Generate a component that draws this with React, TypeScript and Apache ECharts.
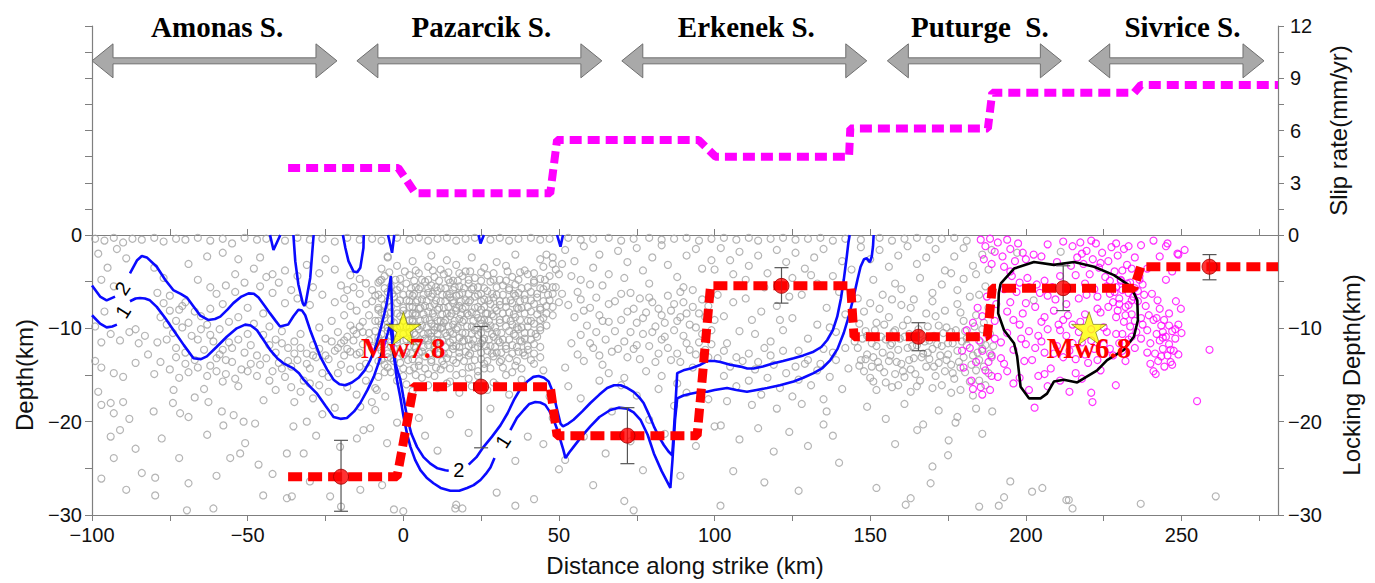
import React, { useEffect, useRef } from "react";
import * as echarts from "echarts";

// ---------- axis extents ----------
const X_MIN = -100;
const X_MAX = 281;

// ---------- fault segments (km along strike) ----------
const segmentNames = ["Amonas S.", "Pazarcik S.", "Erkenek S.", "Puturge  S.", "Sivrice S."];
const segmentStart = [-100, -14.9, 70.2, 155.5, 220.2];
const segmentEnd = [-21.3, 63.8, 148.9, 211.4, 276.5];
const segmentLabelX = [-59.8, 25.1, 110.2, 185.2, 250.3];
const segmentArrowLevel = 10;
const segmentLabelLevel = 11.94;

// ---------- slip rate (mm/yr) ----------
const slipRate: number[][] = [
  [-37, 3.85], [-1.6, 3.85], [3.9, 2.39], [47.2, 2.39], [49.4, 5.45], [94.9, 5.45],
  [100.3, 4.5], [143.2, 4.5], [143.6, 6.12], [187.8, 6.12], [189.2, 8.17], [234.8, 8.17],
  [236.9, 8.61], [281, 8.61],
];

// ---------- locking depth (km) ----------
const lockingLine: number[][] = [
  [-37, -25.9], [-2, -25.9], [3.3, -16.25], [47.2, -16.25], [49.4, -21.5], [94.4, -21.5],
  [98.7, -5.45], [143.7, -5.45], [144.8, -10.9], [187.6, -10.9], [189.2, -5.7], [234.7, -5.7],
  [236.9, -3.4], [281, -3.4],
];
const lockX = [-20, 25, 72, 121.5, 165.5, 212, 259];
const lockDepth = [-25.9, -16.25, -21.5, -5.45, -10.9, -5.7, -3.4];
const lockLow = [-29.6, -22.8, -24.5, -7.3, -12.4, -8.1, -4.8];
const lockHigh = [-22.0, -9.8, -18.5, -3.5, -9.4, -3.3, -2.1];

// ---------- main shocks ----------
const quakeNames = ["Mw7.8", "Mw6.8"];
const quakeX = [0, 220.3];
const quakeDepth = [-10, -10];

// ---------- slip-deficit contours ----------
const contour2a: number[][] = [[-100, -5.4], [-97.4, -6.6], [-95.3, -7.0], [-92.6, -6.6]];
const contour2b: number[][] = [
  [-87.8, -4.1], [-85.5, -2.7], [-84, -2.25], [-82.4, -2.4], [-79.2, -3.4], [-76.5, -4.8],
  [-73.9, -5.9], [-71.5, -6.3], [-69.5, -6.7], [-67.5, -7.6], [-65.3, -8.6], [-62.7, -9.1],
  [-60.5, -9.0], [-58.8, -8.75], [-56.5, -8.0], [-54.6, -7.3], [-52, -6.6], [-49.7, -6.25],
  [-48, -6.3], [-46.5, -6.7], [-44.5, -7.6], [-42.8, -8.4], [-41, -9.2], [-39.6, -9.8],
  [-37, -9.6], [-35.3, -8.7], [-33.7, -8.0], [-32.5, -8.1], [-31.5, -8.6], [-29.9, -10.2],
  [-28.3, -11.6], [-26.7, -13.0], [-24.5, -14.4], [-22.4, -15.5], [-20.5, -16.0], [-18.6, -16.1],
  [-16.5, -15.8], [-14.4, -15.3], [-12.4, -14.5], [-10.6, -13.4], [-8.8, -11.9], [-7.4, -10.2],
  [-6.2, -8.6], [-5.3, -7.3], [-4.5, -5.6], [-4.0, -4.4], [-3.7, -7.0], [-3.5, -10.0],
  [-3.2, -12.2], [-2.5, -13.8], [-1.6, -14.8], [-1.0, -15.4], [0, -17.3], [1.2, -19.5],
  [2.6, -21.3], [4.4, -22.7], [6.5, -23.8], [8.7, -24.5], [11, -25.0], [13.5, -25.2], [14.6, -25.25],
];
const contour2c: number[][] = [
  [21, -24.6], [23.5, -23.8], [25.8, -22.7], [28.5, -21.6], [31.2, -20.4], [33.5, -19.1],
  [35.5, -17.7], [37.6, -16.5], [39.8, -15.7], [41.8, -15.2], [43.5, -15.1], [45.2, -15.3],
  [46.7, -15.7], [48, -16.8], [48.9, -18.0], [50.5, -20.2], [51.3, -20.5], [53, -20.2],
  [54.7, -19.8], [57.5, -18.9], [60.1, -18.0], [63, -17.1], [65.5, -16.4], [67.7, -16.1],
  [69.8, -16.1], [72, -16.4], [74, -16.8], [75.8, -17.4], [77.2, -18.0], [79, -19.3],
  [80.5, -20.5], [82.1, -21.6], [83.7, -22.5], [85.2, -23.2], [86.4, -23.6], [87.2, -19.5],
  [88, -14.8], [90, -14.5], [92.3, -14.3], [95.5, -13.9], [97.6, -13.5], [100, -13.5],
  [101.9, -13.6], [105, -13.9], [108.3, -14.1], [110.5, -14.3], [112.5, -14.3], [115.5, -14.1],
  [119, -13.75], [122, -13.5], [125.4, -13.2], [128.5, -12.9], [131.8, -12.5], [134.3, -12.0],
  [136.2, -11.25], [138, -10.2], [139.4, -8.75], [140.6, -6.8], [141.5, -4.8], [142.4, -2.5],
  [143, -0.8], [143.4, 0],
];
const contour1a: number[][] = [[-100, -8.6], [-97.4, -9.5], [-95.3, -9.9], [-93.5, -9.8], [-92, -9.6]];
const contour1b: number[][] = [
  [-87.8, -7.1], [-86, -6.8], [-84.6, -6.75], [-83, -6.8], [-81.4, -7.0], [-79.2, -7.7],
  [-76.5, -8.9], [-73.8, -10.2], [-70.5, -11.8], [-67.4, -13.2], [-65, -13.3], [-63.1, -13.0],
  [-60, -12.0], [-56.7, -10.9], [-53.5, -10.0], [-50.8, -9.6], [-49, -9.7], [-47, -10.2],
  [-45, -11.2], [-42.8, -12.3], [-40.5, -13.2], [-38.5, -13.75], [-35.3, -14.3], [-33.5, -14.8],
  [-32, -15.5], [-29.8, -16.3], [-27.7, -17.0], [-25, -18.3], [-22.4, -19.5], [-20.2, -19.7],
  [-18.1, -19.6], [-15.8, -18.9], [-13.8, -18.0], [-11.5, -16.6], [-9.5, -15.2], [-7.8, -13.6],
  [-6.3, -12.0], [-5.0, -10.5], [-4.2, -9.5], [-3.6, -11.3], [-3.0, -13.0], [-2.0, -15.6],
  [-1.0, -17.3], [0, -19.3], [1.2, -21.3], [2.3, -22.7], [3.8, -24.1], [5.5, -25.2],
  [7.5, -26.0], [9.7, -26.6], [12, -27.1], [15.1, -27.4], [18, -27.4], [20.5, -27.1],
  [22.6, -26.8], [24.8, -26.25], [26.5, -25.6], [28, -24.9], [29.3, -23.9],
];
const contour1c: number[][] = [
  [34.4, -20.9], [36.5, -19.6], [38.7, -18.75], [40.5, -18.1], [42.4, -17.9], [44, -17.95],
  [45.6, -18.2], [47, -18.9], [48.3, -19.8], [49.5, -20.9], [50.5, -22.0], [51.4, -23.0],
  [52.1, -23.9], [53.3, -23.3], [54.7, -22.7], [57.5, -21.5], [60.1, -20.5], [63, -19.5],
  [66.5, -18.75], [69.2, -18.5], [71.9, -18.6], [74, -19.0], [76.2, -19.8], [78.5, -21.4],
  [80.5, -23.4], [83, -25.3], [85.8, -27.1], [86.5, -24], [87.3, -19.8], [88, -17.5],
  [90, -17.2], [92.3, -17.0], [95.5, -16.8], [97.6, -16.8], [100, -16.6], [104, -16.4],
  [107, -16.6], [110.4, -16.8], [113.5, -16.6], [116.9, -16.4], [121, -16.1], [125.4, -15.7],
  [128.5, -15.3], [131.8, -14.8], [134.5, -14.3], [137.2, -13.4], [139.5, -12.2], [141.5, -10.5],
  [143.2, -8.6], [144.7, -6.6], [145.9, -4.8], [146.9, -3.4], [148.0, -2.6], [148.9, -2.5],
  [149.9, -2.9], [150.5, -2.3], [150.9, -1.2], [151.1, 0],
];
// small closed contour pieces reaching the surface
const shallowA: number[][] = [[-42.8, 0], [-41.7, -1.6], [-39.5, 0]];
const shallowB: number[][] = [[-35.3, 0], [-34.7, -2.8], [-33.7, -5.3], [-32.3, -7.3], [-31.8, -7.6], [-31.3, -7.2], [-29.9, -4.6], [-28.8, 0]];
const shallowC: number[][] = [[-19.4, 0], [-18.6, -1.4], [-17.6, -2.8], [-16, -3.9], [-14.8, -4.0], [-13.8, -3.5], [-12.8, -1.4], [-12.7, 0]];
const shallowD: number[][] = [[-4.9, 0], [-3.6, -1.9], [-2.9, 0]];
const shallowE: number[][] = [[24.2, 0], [24.8, -0.9], [25.9, 0]];
const shallowF: number[][] = [[49.4, 0], [50.5, -1.25], [51.3, 0]];
const contourLines = [contour2a, contour2b, contour2c, contour1a, contour1b, contour1c, shallowA, shallowB, shallowC, shallowD, shallowE, shallowF];

const contourLabelText = ["2", "1", "2", "1"];
const contourLabelX = [-90.2, -90.0, 17.8, 32.0];
const contourLabelDepth = [-5.7, -8.2, -25.2, -22.1];
const contourLabelAngle = [57, 58, 0, 58];

// Mw6.8 rupture outline
const ruptureOutline: number[][] = [
  [191.9, -5.2], [196.2, -3.6], [202.6, -2.9], [209, -3.2], [215.5, -2.9], [221.9, -3.4],
  [228.3, -4.3], [233.7, -5.5], [235.8, -7.0], [236, -9.1], [234.7, -10.9], [231.5, -12.3],
  [226.1, -13.4], [222.9, -14.5], [216.5, -15.8], [212.2, -15.5], [209, -15.7], [206.8, -17.0],
  [204.7, -17.5], [201, -17.5], [198.3, -16.25], [197.2, -13.0], [196.2, -11.6], [193, -10.2],
  [191.1, -8.4], [191.3, -6.25], [191.9, -5.2],
];

// ---------- relocated seismicity (km along strike, depth km) ----------
const backgroundEvents: number[][] = [
  // near-surface events
  [-99, -0.4], [-96, -0.6], [-93, -0.3], [-90, -0.8], [-87, -0.4], [-84, -0.5], [-80, -0.3], [-77, -0.7],
  [-73, -0.4], [-70, -0.5], [-66, -0.3], [-62, -0.6], [-58, -0.4], [-55, -0.9], [-51, -0.3], [-47, -0.5],
  [-44, -0.4], [-38, -0.6], [-34, -0.3], [-30, -0.5], [-26, -0.4], [-22, -0.7], [-18, -0.3], [-14, -0.5],
  [-10, -0.4], [-7, -0.6], [-2, -0.3], [2, -0.5], [5, -0.3], [8, -0.6], [11, -0.4], [14, -0.3],
  [17, -0.6], [20, -0.4], [23, -0.3], [28, -0.5], [31, -0.3], [34, -0.6], [37, -0.4], [41, -0.3],
  [44, -0.5], [47, -0.4], [53, -0.3], [57, -0.5], [61, -0.4], [66, -0.3], [70, -0.6], [74, -0.4],
  [79, -0.3], [83, -0.5], [87, -0.4], [91, -0.3], [95, -0.6], [99, -0.4], [103, -0.3], [107, -0.5],
  [111, -0.3], [114, -0.6], [118, -0.4], [122, -0.3], [126, -0.5], [130, -0.4], [134, -0.3], [138, -0.6],
  [142, -0.4], [147, -0.5], [153, -0.3], [157, -0.6], [161, -0.4], [165, -0.3], [169, -0.5], [173, -0.4],
  [177, -0.3], [181, -0.6],
  // Amonas segment
  [-98, -2], [-95, -3.5], [-92, -1.5], [-89, -2.5], [-97, -4.8], [-93, -5.5], [-96, -8.2], [-99, -9.8],
  [-97, -11.5], [-94, -10.6], [-91, -11.3], [-88, -10.4], [-86, -10.1], [-85, -11.6], [-83, -10.8], [-82, -12.8],
  [-79, -11.5], [-99, -13.5], [-97, -14.2], [-93, -14.8], [-90, -15.2], [-86, -13.7], [-98, -16.8], [-94, -18],
  [-90, -17.9], [-97, -18.2], [-93, -19.1], [-94, -21.6], [-91, -20.9], [-86, -22.9], [-93, -23.9], [-89, -27.3],
  [-80, -3.5], [-77, -4.6], [-75, -6.5], [-72, -8], [-70, -7.2], [-78, -8.8], [-76, -9.6], [-74, -10.5],
  [-71, -9.9], [-68, -10.8], [-66, -11.2], [-73, -12.1], [-70, -12.6], [-67, -13.4], [-64, -12.3], [-78, -13.6],
  [-75, -14.4], [-80, -14.9], [-72, -15.3], [-69, -14.7], [-62, -14], [-60, -13.2], [-58, -12.3], [-56, -11.5],
  [-62, -10.7], [-59, -10.1], [-56, -9.3], [-53, -8.8], [-50, -10.6], [-48, -9.5], [-65, -8.7], [-62, -7.9],
  [-60, -6.3], [-57, -5.4], [-54, -4.2], [-51, -5.1], [-48, -3.6], [-66, -4.8], [-69, -3.1], [-63, -2.3],
  [-58, -1.9], [-53, -2.6], [-46, -2.4], [-55, -13.6], [-52, -14.4], [-49, -13.8], [-47, -15.1], [-53, -16.2],
  [-58, -15.7], [-64, -16.5], [-67, -17.4], [-74, -18], [-69, -19.5], [-62.6, -17.9], [-58.3, -18.9], [-57.8, -20.4],
  [-54.5, -19.3], [-51.3, -20], [-47.6, -20.2], [-44.9, -17.7], [-50.8, -22.3], [-55.6, -23.9], [-52.4, -23.4],
  [-46.5, -24.6], [-79.7, -27.9], [-79.7, -26], [-77.6, -21.8], [-69, -26.6], [-69.5, -29.5], [-80.2, -18.9],
  [-73.8, -16.6], [-71.7, -19.1], [-60, -25.8], [-45, -27.9], [-84, -25.5], [-97, -26.1], [-72, -23.9],
  [-63, -21.4], [-88, -19.7], [-61, -29.3],
  [-79, -6.2], [-77, -7.3], [-75, -8.1], [-73, -9.2], [-71, -7.6], [-69, -9.4], [-67, -8.2], [-65, -10.1],
  [-63, -9.6], [-61, -11.4], [-59, -12.8], [-57, -13.4], [-55, -12.1], [-53, -11.2], [-51, -12.6], [-49, -11.8],
  [-47, -12.9], [-45, -10.7], [-43, -11.8], [-41, -12.6], [-39, -11.6], [-37, -13.5], [-35, -12.7], [-33, -12.1],
  [-31, -13.8], [-29, -12.9], [-27, -12.2], [-25, -12.9], [-23, -11.4], [-21, -12.1], [-19, -11.3], [-17, -12.5],
  [-15, -10.6], [-13, -10.4], [-11, -11.3], [-9, -10.3], [-76, -11.2], [-73, -13.1], [-70, -13.8], [-66, -14.2],
  [-63, -15.1], [-60, -14.6], [-57, -14.9], [-54, -15.4], [-50, -14.6], [-46, -13.9], [-43, -15.6], [-39, -14.3],
  [-36, -16.3], [-33, -16.8], [-30, -15.9], [-27, -16.1], [-24, -15.2], [-21, -14.8], [-17, -14.4], [-14, -14.1],
  [-11, -14.3], [-8, -15.2], [-62, -5.6], [-58, -7.4], [-54, -6.1], [-50, -7.8], [-46, -5.5], [-42, -4.2],
  [-38, -7.3], [-34, -6.8], [-30, -7.5], [-26, -6.4], [-22, -7.2], [-18, -5.9], [-14, -4.7], [-10, -5.9],
  [-7, -4.8], [-5, -2.4],
  // west of the epicentre
  [-44, -4.5], [-42, -6.2], [-40, -5.1], [-38, -3.8], [-36, -5.9], [-34, -4.4], [-31, -3.2], [-29, -5.6],
  [-27, -4.1], [-25, -2.6], [-22, -3.7], [-20, -5.4], [-17, -4.3], [-14, -6.3], [-12, -5.2], [-10, -7.1],
  [-45, -8.4], [-43, -9.8], [-41, -11.2], [-39, -10.3], [-37, -12.1], [-35, -11.4], [-33, -10.6], [-31, -12.7],
  [-29, -11.8], [-27, -9.9], [-25, -11.1], [-23, -9.2], [-21, -10.4], [-19, -8.6], [-17, -9.7], [-15, -8.1],
  [-13, -9.3], [-11, -10.5], [-9, -9.2], [-8, -11.4], [-7, -8.3], [-44, -13.2], [-42, -14.6], [-40, -13.7],
  [-38, -15.2], [-36, -14.1], [-34, -13.4], [-32, -15.6], [-30, -14.3], [-28, -13.1], [-26, -14.8], [-24, -13.3],
  [-22, -12.4], [-20, -13.9], [-18, -12.2], [-16, -11.3], [-14, -12.6], [-12, -13.8], [-10, -12.1], [-8, -13.5],
  [-6, -14.7], [-4, -13.2], [-12, -15.6], [-9, -16.4], [-15, -17.1], [-18, -16.3], [-24, -16.8], [-29, -17.5],
  [-35, -17.9], [-41, -16.6], [-37.4, -23.4], [-32, -23.4], [-35.3, -20.5], [-31, -20], [-37.4, -28.2],
  [-35.8, -28], [-20.3, -22.7], [-13.8, -27.3], [-6.8, -26.8], [-5.2, -22.3], [-14.9, -21.8], [-12.8, -20.9],
  [-10.6, -20.7], [-13.8, -18.4], [-9, -18.75], [-8.5, -16.6], [-5.8, -17.3], [-10.1, -17.9], [-26, -19.2],
  [-22, -18.5], [-28, -21.5], [-42, -25.6], [-30, -26.4], [-20, -29.1], [-23.5, -28],
  [-19, -6.8], [-17, -7.6], [-16, -10.2], [-14, -9.8], [-13, -11.7], [-11, -8.6], [-10, -11.9], [-9, -6.5],
  [-18, -10.9], [-15, -12.8], [-20, -11.6], [-12, -7.4], [-16, -5.6], [-19, -12.9],
  // Pazarcik cluster
  [-5, -2.3], [3, -2.8], [9, -2.2], [14, -2.7], [22, -2.4], [30, -2.9], [36, -2.1], [44, -2.6], [48, -2.4],
  [-7, -3.6], [-2, -3.3], [4, -3.8], [8, -3.4], [12, -3.7], [17, -3.2], [20, -3.9], [26, -3.5], [33, -3.3],
  [39, -3.8], [45, -3.4], [49, -3.7],
  [-6, -4.4], [-1, -4.7], [2, -4.3], [6, -4.8], [10, -4.5], [13, -4.2], [16, -4.9], [19, -4.4], [23, -4.6],
  [27, -4.3], [31, -4.8], [35, -4.5], [40, -4.2], [44, -4.7], [47, -4.4],
  [-8, -5.1], [-4, -5.5], [1, -5.2], [4, -5.6], [7, -5.0], [9, -5.4], [12, -5.7], [15, -5.1], [18, -5.5],
  [21, -5.2], [24, -5.6], [28, -5.0], [32, -5.4], [36, -5.3], [38, -5.7], [42, -5.1], [46, -5.5],
  [-5, -6.1], [-2, -5.9], [2, -6.3], [5, -5.8], [8, -6.2], [11, -6.0], [14, -6.4], [16, -5.9], [19, -6.2],
  [22, -5.8], [25, -6.3], [27, -6.0], [30, -6.4], [34, -5.9], [37, -6.2], [41, -6.1], [45, -5.8], [48, -6.3],
  [-7, -6.8], [-3, -6.6], [1, -7.0], [3, -6.5], [6, -6.9], [9, -6.6], [12, -7.1], [15, -6.7], [17, -6.5],
  [20, -7.0], [23, -6.6], [26, -6.9], [29, -6.7], [33, -7.1], [36, -6.5], [39, -6.9], [43, -6.7], [47, -7.0],
  [-6, -7.5], [-2, -7.3], [2, -7.7], [4, -7.2], [7, -7.6], [10, -7.4], [13, -7.8], [16, -7.3], [18, -7.6],
  [21, -7.2], [24, -7.7], [28, -7.4], [31, -7.5], [35, -7.3], [38, -7.8], [42, -7.4], [46, -7.6],
  [-8, -8.0], [-4, -8.3], [0, -8.1], [3, -8.4], [5, -7.9], [8, -8.2], [11, -8.0], [14, -8.4], [17, -8.1],
  [19, -7.9], [22, -8.3], [25, -8.0], [27, -8.4], [30, -8.1], [34, -8.3], [37, -7.9], [41, -8.2], [44, -8.0],
  [-6, -8.9], [-1, -8.7], [2, -9.1], [4, -8.6], [7, -9.0], [10, -8.8], [12, -9.2], [15, -8.7], [18, -9.0],
  [21, -8.6], [24, -8.9], [26, -9.1], [29, -8.7], [33, -9.0], [36, -8.8], [40, -9.2], [45, -8.9], [48, -8.6],
  [-7, -9.6], [-3, -9.4], [1, -9.8], [3, -9.3], [6, -9.7], [9, -9.5], [11, -9.9], [13, -9.4], [16, -9.6],
  [19, -9.3], [22, -9.8], [25, -9.5], [28, -9.7], [31, -9.4], [35, -9.6], [38, -9.9], [42, -9.5], [46, -9.7],
  [-5, -10.3], [-2, -10.0], [2, -10.4], [5, -10.1], [8, -10.5], [10, -10.2], [12, -10.0], [15, -10.4],
  [17, -10.1], [20, -10.5], [23, -10.2], [27, -10.0], [30, -10.4], [34, -10.3], [37, -10.1], [41, -10.5], [44, -10.2],
  [-8, -11.0], [-4, -10.8], [1, -11.2], [4, -10.7], [7, -11.1], [9, -10.9], [11, -11.3], [14, -10.8],
  [18, -11.0], [21, -11.2], [24, -10.7], [26, -11.1], [29, -10.9], [32, -11.2], [36, -10.8], [39, -11.1], [43, -10.9],
  [-6, -11.7], [-2, -11.5], [2, -11.9], [5, -11.4], [8, -11.8], [12, -11.6], [15, -11.5], [17, -11.9],
  [19, -11.4], [22, -11.7], [25, -11.6], [28, -11.9], [31, -11.5], [35, -11.8], [38, -11.4], [42, -11.7],
  [-7, -12.4], [-3, -12.2], [1, -12.6], [4, -12.1], [6, -12.5], [10, -12.3], [13, -12.7], [16, -12.2],
  [20, -12.5], [23, -12.1], [27, -12.4], [30, -12.6], [33, -12.2], [37, -12.5], [40, -12.3],
  [-5, -13.1], [0, -12.9], [3, -13.3], [7, -13.0], [11, -12.8], [14, -13.2], [18, -13.1], [21, -12.9],
  [25, -13.3], [29, -13.0], [34, -13.2], [39, -12.9], [44, -13.1],
  [-6, -13.9], [-1, -13.7], [5, -14.0], [9, -13.6], [13, -13.9], [17, -13.7], [22, -14.1], [26, -13.8],
  [31, -13.6], [36, -14.0], [42, -13.8],
  [-4, -14.7], [2, -14.5], [8, -14.9], [12, -14.4], [19, -14.8], [24, -14.6], [28, -14.3], [35, -14.7], [45, -14.5],
  [-2, -15.6], [6, -15.3], [15, -15.7], [21, -15.4], [29, -15.8], [38, -15.5],
  [3, -16.7], [11, -16.4], [18, -16.9], [27, -16.6], [34, -17.1],
  [46, -2.1], [48, -3.1], [50, -4.2], [49, -5.6], [50, -7.2],
  [-4.5, -4.0], [0.5, -3.9], [5, -4.1], [9.5, -3.8], [14.5, -4.0], [18, -4.1], [21.5, -3.9], [25, -4.0],
  [29, -4.1], [33.5, -3.9], [37.5, -4.0], [42, -4.1],
  [-7.5, -4.9], [-2.5, -4.8], [3.5, -4.9], [8, -4.8], [11.5, -4.9], [14.5, -4.8], [17.5, -4.9], [21, -4.8],
  [25, -4.9], [29, -4.8], [33, -4.9], [37, -4.8], [42, -4.9], [45.5, -4.8],
  [-6, -5.7], [-1, -5.6], [2.5, -5.7], [5.5, -5.6], [8, -5.7], [10.5, -5.6], [13.5, -5.7], [16.5, -5.6],
  [19.5, -5.7], [22.5, -5.6], [26, -5.7], [30, -5.6], [34, -5.7], [40, -5.6], [44, -5.7], [48, -5.6],
  [-8, -6.4], [-3.5, -6.3], [0, -6.4], [3.5, -6.3], [6.5, -6.4], [9.5, -6.3], [12.5, -6.4], [15, -6.3],
  [18, -6.4], [21, -6.3], [24, -6.4], [28.5, -6.3], [32, -6.4], [35.5, -6.3], [39, -6.4], [43, -6.3], [46.5, -6.4],
  [-5, -7.1], [-1, -7.0], [2, -7.1], [4.5, -7.0], [7.5, -7.1], [10.5, -7.0], [13.5, -7.1], [16, -7.0],
  [18.5, -7.1], [21.5, -7.0], [25, -7.1], [27.5, -7.0], [31, -7.1], [34.5, -7.0], [37.5, -7.1], [41, -7.0], [45, -7.1],
  [-8, -7.8], [-4, -7.7], [0, -7.8], [3, -7.7], [5.5, -7.8], [8.5, -7.7], [11.5, -7.8], [14.5, -7.7],
  [17, -7.8], [20, -7.7], [23, -7.8], [26, -7.7], [29.5, -7.8], [33, -7.7], [36.5, -7.8], [40, -7.7], [44, -7.8], [48, -7.7],
  [-6, -8.5], [-2, -8.4], [1.5, -8.5], [4, -8.4], [6.5, -8.5], [9.5, -8.4], [12.5, -8.5], [15.5, -8.4],
  [18.5, -8.5], [20.5, -8.4], [23.5, -8.5], [26.5, -8.4], [28.5, -8.5], [32, -8.4], [35.5, -8.5], [39, -8.4], [43, -8.5], [46, -8.4],
  [-8, -9.2], [-4, -9.1], [0, -9.2], [3, -9.1], [5.5, -9.2], [8.5, -9.1], [11, -9.2], [13.5, -9.1],
  [16.5, -9.2], [19.5, -9.1], [22.5, -9.2], [25, -9.1], [27.5, -9.2], [31, -9.1], [34.5, -9.2], [37.5, -9.1], [41, -9.2], [44, -9.1],
  [-5, -9.9], [-1, -9.8], [2, -9.9], [4.5, -9.8], [7.5, -9.9], [10, -9.8], [12.5, -9.9], [14.5, -9.8],
  [17.5, -9.9], [20.5, -9.8], [23.5, -9.9], [26.5, -9.8], [29.5, -9.9], [33, -9.8], [36.5, -9.9], [40, -9.8], [44, -9.9],
  [-7, -10.6], [-3, -10.5], [0, -10.6], [3.5, -10.5], [6.5, -10.6], [9, -10.5], [11, -10.6], [13.5, -10.5],
  [16, -10.6], [19, -10.5], [22, -10.6], [25, -10.5], [28.5, -10.6], [31.5, -10.5], [35.5, -10.6], [39, -10.5], [42.5, -10.6],
  [-6, -11.3], [-2, -11.2], [2.5, -11.3], [5.5, -11.2], [8, -11.3], [10, -11.2], [12.5, -11.3], [16, -11.2],
  [19.5, -11.3], [22.5, -11.2], [25.5, -11.3], [27.5, -11.2], [30.5, -11.3], [34, -11.2], [37.5, -11.3], [41, -11.2],
  [-8, -12.0], [-4, -11.9], [0, -12.0], [3.5, -11.9], [6.5, -12.0], [10, -11.9], [13.5, -12.0], [16, -11.9],
  [18, -12.0], [21, -11.9], [24, -12.0], [26.5, -11.9], [29.5, -12.0], [33, -11.9], [36.5, -12.0], [40, -11.9], [44, -12.0],
  [-5, -12.7], [-1, -12.6], [2.5, -12.7], [5, -12.6], [8.5, -12.7], [11.5, -12.6], [14.5, -12.7], [18, -12.6],
  [21.5, -12.7], [25, -12.6], [28.5, -12.7], [31.5, -12.6], [35, -12.7], [38.5, -12.6], [42, -12.7],
  [-7, -13.4], [-3, -13.5], [1.5, -13.4], [5, -13.5], [9, -13.4], [12.5, -13.5], [16, -13.4], [19.5, -13.5],
  [23, -13.4], [27, -13.5], [31.5, -13.4], [36.5, -13.5], [41, -13.4],
  [-5, -14.2], [0, -14.3], [3.5, -14.2], [7, -14.3], [10.5, -14.2], [15, -14.3], [21, -14.2], [26, -14.3], [32, -14.2], [38, -14.3],
  [0, -15.1], [4, -15.0], [10, -15.1], [17, -15.0], [24, -15.1], [33, -15.0],
  [1, -16.0], [8, -16.1], [14, -15.9], [22, -16.2], [30, -16.1],
  [-3, -29.4], [0, -29.6], [17, -28.9], [30, -27.6], [42, -28.3], [50, -25.1], [45, -22.4], [36, -24.2],
  [11, -23.1], [7, -21.5], [-2, -20.1], [21, -21.2], [40, -21.6], [48, -19.6], [5, -19.6], [15, -19.2],
  [28, -18.6], [47, -17.3], [16.7, -29.3], [19, -29.3], [36, -29],
  // Erkenek segment
  [52, -1.6], [55, -2.8], [58, -1.2], [61, -3.5], [63, -2.1], [66, -4.2], [69, -1.7], [72, -2.9], [75, -1.4],
  [77, -3.8], [80, -2.4], [83, -1.1], [85, -3.2], [88, -4.5], [91, -2.2], [94, -1.5], [96, -3.6], [99, -2.7],
  [57, -4.8], [64, -5.4], [71, -4.6], [79, -5.2], [90, -5.6],
  [51, -6.3], [53, -7.5], [55, -8.8], [57, -6.9], [59, -9.7], [60, -7.8], [62, -10.4], [63, -8.6], [65, -11.2],
  [66, -9.3], [67, -12.5], [68, -7.1], [54, -11.6], [56, -12.8], [58, -13.5], [61, -12.1], [64, -13.9], [52, -14.2],
  [73, -6.2], [74, -7.9], [75, -9.4], [76, -6.8], [77, -10.6], [78, -8.3], [79, -11.9], [80, -7.2], [81, -9.8],
  [82, -12.7], [83, -8.6], [84, -10.9], [85, -6.5], [86, -13.4], [74, -12.2], [76, -13.3], [78, -14.6], [70, -9.1],
  [71, -11.4], [72, -13.1], [87, -7.4], [88, -9.2], [89, -6.1], [90, -10.8], [91, -8.4], [92, -12.3], [93, -7.7],
  [94, -9.9], [95, -11.5], [96, -6.9], [97, -8.8], [98, -13.1], [99, -10.2], [93, -14.2], [89, -13.6],
  [51, -3.1], [54, -4.4], [56, -6.1], [58, -8.1], [60, -5.3], [62, -6.7], [64, -9.2], [66, -7.4], [68, -10.3],
  [69, -12.2], [70, -6.3], [72, -8.2], [73, -10.4], [75, -11.8], [77, -8.9], [79, -6.7], [80, -10.4], [81, -13.6],
  [82, -7.9], [83, -11.2], [84, -9.4], [85, -12.1], [86, -8.1], [87, -10.2], [88, -12.7], [89, -8.8], [90, -7.2],
  [91, -11.6], [92, -9.6], [93, -5.9], [94, -12.8], [95, -8.4], [96, -10.6], [97, -12.3], [98, -7.6], [99, -11.7],
  [100, -9.1], [60, -11.6], [57, -10.7], [63, -12.9], [66, -14.8], [71, -15.3], [83, -15.1], [88, -15.9], [96, -15.2],
  [53, -16.2], [57, -17.5], [63, -15.6], [67, -18.9], [70, -16.1], [75, -17.2], [79, -19.8], [82, -16.5],
  [87, -18.3], [91, -16.9], [95, -19.4], [98, -17.6], [58, -21.6], [65, -23.4], [73, -22.1], [77, -25.2],
  [84, -21.3], [89, -25.8], [94, -22.6], [61, -26.8], [71, -28.5], [52, -24.1], [100, -20.5], [74, -29.5],
  [101.9, -29],
  [102, -1.4], [105, -2.7], [108, -1.8], [111, -3.3], [114, -2.2], [117, -4.1], [120, -1.6], [123, -2.9],
  [126, -1.9], [129, -3.6], [132, -2.4], [135, -1.5], [138, -4.4], [141, -2.8], [144, -3.7], [110, -4.8],
  [125, -4.6], [133, -5.2],
  [101, -6.4], [103, -8.7], [106, -7.2], [108, -10.3], [110, -6.8], [112, -9.1], [115, -8.2], [118, -11.4],
  [120, -7.6], [122, -10.2], [125, -8.9], [128, -6.4], [130, -11.1], [133, -9.6], [136, -7.8], [139, -10.4],
  [142, -8.5], [104, -11.6], [116, -12.1], [127, -12.4], [135, -12.2],
  [101, -13.2], [103, -15.1], [105, -14.1], [107, -16.2], [109, -13.5], [111, -15.6], [113, -14.4], [115, -17.1],
  [117, -15.3], [119, -13.9], [121, -16.4], [123, -14.8], [125, -17.3], [127, -15.5], [129, -13.8], [131, -16.1],
  [133, -14.5], [135, -17.6], [137, -15.2], [139, -13.4], [141, -16.5], [143, -14.3], [104, -17.8], [112, -18.2],
  [120, -18.6], [128, -18.1], [136, -18.9],
  [103, -12.4], [107, -13.1], [111, -12.7], [114, -13.6], [118, -12.9], [122, -12.4], [126, -14.1], [130, -13.4],
  [134, -13.8], [138, -12.6], [142, -12.1], [106, -4.2], [116, -5.6], [124, -6.6], [131, -4.3], [140, -6.1],
  [144, -8.8], [145, -11.4], [100, -3.7], [113, -10.6], [121, -9.1], [137, -9.9],
  [102, -20.4], [108, -21.9], [114, -20.7], [119, -23.2], [124, -21.1], [130, -22.6], [135, -20.3], [140, -24.4],
  [106, -25.3], [127, -27.4], [116, -26.5], [138, -21.5],
  // Puturge segment
  [147, -1.3], [150, -2.6], [153, -1.6], [156, -3.4], [159, -2.2], [162, -1.2], [165, -3.1], [168, -2.4],
  [171, -1.5], [174, -3.8], [177, -2.3], [180, -1.4], [183, -3.3], [186, -2.1], [189, -1.6], [151, -4.8],
  [158, -5.2], [166, -4.6], [173, -5.3], [180, -4.7], [187, -5.5],
  [146, -6.8], [148, -8.2], [150, -7.3], [152, -9.4], [154, -6.4], [156, -8.8], [158, -10.2], [160, -7.5],
  [162, -9.1], [164, -6.9], [166, -10.6], [168, -8.4], [170, -7.1], [172, -9.7], [174, -8.1], [176, -10.4],
  [178, -7.4], [180, -9.2], [182, -6.6], [184, -8.6], [186, -10.1], [188, -7.8], [149, -10.8], [155, -11.2],
  [161, -10.9], [169, -11.3], [175, -11.6], [181, -11.1], [187, -11.8],
  [146, -12.1], [147, -13.4], [148, -14.6], [149, -12.8], [150, -15.3], [151, -13.1], [152, -11.9], [153, -14.2],
  [154, -12.6], [155, -15.8], [156, -13.5], [157, -11.6], [158, -14.9], [159, -12.3], [160, -13.8], [161, -15.2],
  [162, -12.1], [163, -14.4], [164, -13.2], [165, -11.8], [166, -15.6], [167, -12.7], [168, -14.1], [169, -13.3],
  [170, -12.2], [171, -15.1], [172, -13.7], [173, -11.9], [174, -14.6], [175, -12.8], [176, -13.9], [177, -15.4],
  [178, -12.4], [179, -14.2], [180, -13.1], [181, -11.8], [182, -15.7], [183, -12.9], [184, -14.5], [185, -13.4],
  [186, -12.2], [187, -16.1], [188, -14.8], [189, -13.1], [157, -16.3], [163, -16.8], [170, -16.4], [176, -16.9],
  [183, -17.2], [152, -16.6],
  [146.5, -9.5], [147.5, -11.1], [148.5, -10.3], [150.5, -11.6], [151.5, -10.2], [153.5, -10.9], [154.5, -9.6],
  [156.5, -11.8], [157.5, -10.4], [159.5, -11.1], [160.5, -9.7], [162.5, -10.6], [163.5, -11.9], [165.5, -10.1],
  [167.5, -11.4], [168.5, -9.8], [170.5, -10.8], [171.5, -11.7], [173.5, -10.5], [174.5, -9.9], [176.5, -11.6],
  [177.5, -10.2], [179.5, -11.4], [180.5, -10.3], [182.5, -10.9], [183.5, -9.8], [185.5, -11.5], [186.5, -9.4],
  [188.5, -10.6], [189.5, -11.9], [146.5, -14.0], [148.5, -13.3], [150.5, -14.1], [152.5, -13.6], [154.5, -14.7],
  [156.5, -12.9], [158.5, -13.6], [160.5, -14.6], [162.5, -13.4], [164.5, -14.9], [166.5, -13.1], [168.5, -12.6],
  [170.5, -14.1], [172.5, -12.9], [174.5, -13.4], [176.5, -14.8], [178.5, -13.6], [180.5, -14.7], [182.5, -13.9],
  [184.5, -12.6], [186.5, -14.1], [188.5, -12.7], [151, -15.7], [159, -16.1], [165, -16.2], [173, -16.1],
  [179, -16.6], [185, -15.6], [160, -5.8], [170, -6.2], [178, -5.9], [184, -4.2], [176, -4.1], [188, -3.7],
  [163, -7.8], [171, -8.7], [179, -8.3], [185, -6.4], [153, -7.9], [157, -6.9],
  [149, -18.4], [155, -19.7], [161, -18.1], [167, -20.3], [172, -18.8], [178, -19.5], [184, -18.6], [158, -22.4],
  [175, -23.6], [186, -21.3], [152, -27.1], [163, -28.2], [170, -24.8], [195, -26.4], [193, -28.1], [202, -27.5],
  [185, -29.1], [215, -29.3], [213, -28.4], [169.4, -26.6], [161.4, -28.9], [191.3, -29], [205.3, -27.1],
  [213.8, -28.4], [189.2, -18.9], [177.4, -20.1], [175.2, -22], [165.1, -20.9], [236.9, -28.8], [261, -28],
  [197.2, -1.9], [211.2, -1.8], [202.5, -7],
];

const aftershocks: number[][] = [
  [185.5, -0.5], [187, -1.2], [188.5, -0.4], [190, -1.8], [191, -0.8], [192.5, -2.3], [194, -0.5], [195, -1.5],
  [196.5, -2.8], [197.5, -0.9], [199, -1.9], [186.5, -2.6], [189, -3.1], [193, -3.4],
  [200, -2.6], [202.5, -2.1], [205, -2.3], [207, -1.0], [210, -2.9], [212, -0.7],
  [215, -1.2], [216.5, -2.4], [217.5, -0.8], [218.5, -3.1], [219.5, -1.7], [220.5, -4.2], [221.5, -2.6],
  [222.5, -0.9], [223.5, -3.5], [224.5, -1.9], [225.5, -4.5], [226.5, -2.8], [227.5, -1.3], [228.5, -3.9],
  [229.5, -2.2], [230.5, -4.8], [231.5, -1.5], [232.5, -3.2], [216, -4.3], [219, -5.2], [222, -5.8], [226, -5.5],
  [214.5, -3.3], [233.5, -5.1], [235, -2.4], [237, -1.1], [239, -3.6], [241, -0.6], [243, -2.3], [245, -1.2],
  [247, -3.9], [249, -2.1], [251, -1.6], [236.5, -4.8], [245.5, -0.9], [248.7, -2], [245, -4.8], [242.3, -7],
  [248.2, -7.1], [249.8, -7.9], [244.4, -9.1],
  [193, -5.8], [195, -7.2], [197, -6.1], [199, -8.4], [201, -5.6], [203, -7.7], [205, -9.3], [207, -6.5],
  [209, -8.1], [211, -10.2], [213, -7.4], [215, -9.6], [217, -6.8], [219, -8.5], [221, -11.3], [223, -7.9],
  [225, -9.9], [227, -6.3], [229, -8.8], [231, -10.6], [233, -7.5], [235, -9.2], [194, -10.5], [196, -12.3],
  [198, -9.6], [200, -11.7], [202, -13.4], [204, -10.8], [206, -12.6], [208, -14.3], [210, -11.9], [212, -13.1],
  [214, -12.4], [216, -14.8], [218, -11.5], [220, -13.7], [222, -12.2], [224, -14.5], [226, -10.4], [228, -12.9],
  [230, -11.6], [232, -13.5], [234, -10.9], [198, -15.3], [201, -16.6], [204, -15.1], [207, -16.2], [211, -15.6],
  [214, -16.8], [218, -15.4], [221, -16.9], [212, -9.1], [206, -8.8], [200, -7.3], [224, -8.3], [228, -7.2],
  [229, -5.6], [230, -6.8], [231, -5.9], [232, -7.7], [233, -6.2], [234, -8.5], [235, -5.7], [236, -7.1],
  [237, -8.9], [238, -6.4], [229.5, -8.1], [231.5, -9.3], [233.5, -9.8], [235.5, -10.4], [237.5, -9.6],
  [230.5, -4.9], [232.5, -5.2], [234.5, -6.6], [236.5, -4.4], [238.5, -7.6],
  [239, -10.2], [240, -11.6], [241, -9.1], [241.5, -12.7], [242, -10.6], [242.5, -13.5], [243, -11.3],
  [243.5, -9.7], [244, -12.2], [244.5, -14.1], [245, -10.9], [245.5, -12.9], [246, -11.7], [246.5, -13.6],
  [247, -10.3], [247.5, -12.4], [248, -11.1], [249, -9.6], [240, -13.8], [241, -14.6], [243, -7.9], [246, -8.4],
  [249, -12.8], [250, -10.5],
  [195.5, -4.4], [198, -5.1], [200.5, -4.6], [203.5, -5.3], [206, -4.9], [208.5, -5.6], [211, -4.4], [213.5, -5.8],
  [194, -8.2], [196, -9.1], [198.5, -11.1], [201, -10.3], [203, -12.1], [205, -11.4], [207, -10.1], [209, -12.7],
  [210.5, -9.6], [213, -10.8], [215, -11.6], [217, -10.4], [219, -12.8], [221, -10.1], [223, -13.4], [225, -11.7],
  [227, -12.2], [229, -10.6], [231, -12.4], [233, -11.2], [235, -12.1], [237, -11.1], [239, -12.6], [226.5, -7.7],
  [228.5, -6.1], [230, -7.4], [232, -8.6], [234, -7.0], [236, -6.0], [237.5, -5.3], [239.5, -8.6], [240.5, -6.3],
  [242, -8.9], [244, -10.4], [246, -9.7], [248, -10.1], [247, -13.9], [243.5, -13.0], [244, -11.0], [246.5, -12.3],
  [184, -10.8], [186, -12.4], [188, -13.6], [190, -11.1], [192, -13.2], [194, -14.6], [196, -15.9], [189, -15.1],
  [195, -3.9], [218, -2.0], [221, -0.6], [224, -3.0], [227, -4.9], [229, -0.9], [231, -3.8], [234, -3.6],
  [233, -1.2], [219.5, -6.4], [223, -6.6], [209.5, -6.9], [204.5, -6.2], [213.5, -8.6], [217.5, -9.3],
  [199.5, -13.5], [206, -14.9], [216, -13.3],
  [181, -10.2], [182, -12.1], [183, -9.4], [184, -13.6], [185, -11.3], [186, -8.7], [187, -14.5], [188, -10.8],
  [189, -12.9], [190, -9.2], [191, -15.2], [192, -11.5], [193, -13.8], [182.5, -15.6], [185.5, -16.3],
  [188.5, -16.6], [190.5, -7.4], [187.5, -6.6], [184.5, -7.8], [180, -14.2], [179.5, -12.4], [183, -16.5], [186, -17.1],
  [259, -12.3], [255, -17.8], [202.8, -18.5], [221.4, -17.9], [228.9, -16.1], [241.7, -14.9],
];

// ---------- styling ----------
const SANS = "'Liberation Sans', Arial, Helvetica, sans-serif";
const SERIF = "'Liberation Serif', 'Times New Roman', Times, serif";
const AXIS_GRAY = "#7f7f7f";
const STAR_PATH = "path://M50,0 L61.2,34.5 L97.6,34.5 L68.2,55.9 L79.4,90.5 L50,69.1 L20.6,90.5 L31.8,55.9 L2.4,34.5 L38.8,34.5 Z";

const minus = (v: number) => (v < 0 ? "\u2212" + Math.abs(v) : String(v));

function buildOption(): any {
  const axisLine = { show: true, onZero: false, lineStyle: { color: AXIS_GRAY, width: 1.2 } };
  const tickLabel = { color: "#111", fontSize: 20, fontFamily: SANS };
  const nameStyle = { color: "#111", fontSize: 24, fontFamily: SANS };

  const series: any[] = [];

  // fault segment arrows
  series.push({
    type: "custom",
    xAxisIndex: 0,
    yAxisIndex: 0,
    silent: true,
    z: 5,
    clip: false,
    encode: { x: [0, 2], y: 1 },
    data: segmentStart.map((s, i) => [s, segmentArrowLevel, segmentEnd[i]]),
    renderItem: (_p: any, api: any) => {
      const a = api.coord([api.value(0), api.value(1)]);
      const b = api.coord([api.value(2), api.value(1)]);
      const L = 21, H = 17, t = 3;
      const y = a[1];
      const pts = [
        [a[0], y], [a[0] + L, y - H], [a[0] + L, y - t], [b[0] - L, y - t], [b[0] - L, y - H],
        [b[0], y], [b[0] - L, y + H], [b[0] - L, y + t], [a[0] + L, y + t], [a[0] + L, y + H],
      ];
      return {
        type: "polygon",
        shape: { points: pts },
        style: { fill: "#a9a9a9", stroke: "#6f6f6f", lineWidth: 1 },
      };
    },
  });

  // segment names
  series.push({
    type: "custom",
    xAxisIndex: 0,
    yAxisIndex: 0,
    silent: true,
    z: 6,
    clip: false,
    data: segmentLabelX.map((x, i) => [x, segmentLabelLevel, i]),
    renderItem: (_p: any, api: any) => {
      const c = api.coord([api.value(0), api.value(1)]);
      return {
        type: "text",
        x: c[0],
        y: c[1],
        style: {
          text: segmentNames[api.value(2)],
          fill: "#000",
          font: `bold 29px ${SERIF}`,
          align: "center",
          verticalAlign: "middle",
        },
      };
    },
  });

  // slip rate
  series.push({
    type: "line",
    xAxisIndex: 0,
    yAxisIndex: 1,
    data: slipRate,
    showSymbol: false,
    silent: true,
    z: 4,
    lineStyle: { color: "#ff00ff", width: 8, type: [12, 6] },
  });

  // seismicity
  series.push({
    type: "scatter",
    xAxisIndex: 1,
    yAxisIndex: 2,
    data: backgroundEvents,
    symbol: "circle",
    symbolSize: 7,
    silent: true,
    z: 1,
    itemStyle: { color: "rgba(0,0,0,0)", borderColor: "#a2a2a2", borderWidth: 1.2 },
  });
  series.push({
    type: "scatter",
    xAxisIndex: 1,
    yAxisIndex: 2,
    data: aftershocks,
    symbol: "circle",
    symbolSize: 7,
    silent: true,
    z: 2,
    itemStyle: { color: "rgba(0,0,0,0)", borderColor: "#ff00ff", borderWidth: 1.2 },
  });

  // slip-deficit contours
  contourLines.forEach((d) => {
    series.push({
      type: "line",
      xAxisIndex: 1,
      yAxisIndex: 2,
      data: d,
      showSymbol: false,
      silent: true,
      z: 3,
      lineStyle: { color: "#0a0aff", width: 2.6 },
    });
  });
  series.push({
    type: "custom",
    xAxisIndex: 1,
    yAxisIndex: 2,
    silent: true,
    z: 3,
    data: contourLabelX.map((x, i) => [x, contourLabelDepth[i], i]),
    renderItem: (_p: any, api: any) => {
      const c = api.coord([api.value(0), api.value(1)]);
      const i = api.value(2);
      return {
        type: "text",
        x: c[0],
        y: c[1],
        rotation: (contourLabelAngle[i] * Math.PI) / 180,
        style: {
          text: contourLabelText[i],
          fill: "#000",
          font: `20px ${SANS}`,
          align: "center",
          verticalAlign: "middle",
        },
      };
    },
  });

  // rupture outline
  series.push({
    type: "line",
    xAxisIndex: 1,
    yAxisIndex: 2,
    data: ruptureOutline,
    showSymbol: false,
    silent: true,
    z: 4,
    lineStyle: { color: "#000", width: 2.6 },
  });

  // locking depth
  series.push({
    type: "line",
    xAxisIndex: 1,
    yAxisIndex: 3,
    data: lockingLine,
    showSymbol: false,
    silent: true,
    z: 5,
    lineStyle: { color: "#ff0000", width: 9, type: [14, 6] },
  });
  series.push({
    type: "custom",
    xAxisIndex: 1,
    yAxisIndex: 3,
    silent: true,
    z: 6,
    encode: { x: 0, y: [1, 2] },
    data: lockX.map((x, i) => [x, lockLow[i], lockHigh[i]]),
    renderItem: (_p: any, api: any) => {
      const lo = api.coord([api.value(0), api.value(1)]);
      const hi = api.coord([api.value(0), api.value(2)]);
      const w = 7;
      const st = { stroke: "#555", lineWidth: 1.2 };
      return {
        type: "group",
        children: [
          { type: "line", shape: { x1: lo[0], y1: lo[1], x2: hi[0], y2: hi[1] }, style: st },
          { type: "line", shape: { x1: lo[0] - w, y1: lo[1], x2: lo[0] + w, y2: lo[1] }, style: st },
          { type: "line", shape: { x1: hi[0] - w, y1: hi[1], x2: hi[0] + w, y2: hi[1] }, style: st },
        ],
      };
    },
  });
  series.push({
    type: "scatter",
    xAxisIndex: 1,
    yAxisIndex: 3,
    data: lockX.map((x, i) => [x, lockDepth[i]]),
    symbol: "circle",
    symbolSize: 15,
    silent: true,
    z: 7,
    itemStyle: { color: "#ff0000", borderColor: "#a00000", borderWidth: 1 },
  });

  // main shocks: star markers and magnitude labels below them
  series.push({
    type: "scatter",
    xAxisIndex: 1,
    yAxisIndex: 2,
    data: quakeX.map((x, i) => [x, quakeDepth[i]]),
    symbol: STAR_PATH,
    symbolKeepAspect: true,
    symbolSize: 35,
    silent: true,
    z: 8,
    itemStyle: { color: "#ffff00", borderColor: "#6b6b00", borderWidth: 0.8 },
  });
  series.push({
    type: "custom",
    xAxisIndex: 1,
    yAxisIndex: 2,
    silent: true,
    z: 9,
    clip: false,
    data: quakeX.map((x, i) => [x, quakeDepth[i], i]),
    renderItem: (_p: any, api: any) => {
      const c = api.coord([api.value(0), api.value(1)]);
      return {
        type: "text",
        x: c[0],
        y: c[1] + 20,
        style: {
          text: quakeNames[api.value(2)],
          fill: "#ff0000",
          font: `bold 29px ${SERIF}`,
          align: "center",
          verticalAlign: "middle",
        },
      };
    },
  });

  return {
    animation: false,
    backgroundColor: "#ffffff",
    grid: [
      { left: 92, right: 97, top: 26, height: 209 },
      { left: 92, right: 97, top: 235, height: 280 },
    ],
    xAxis: [
      {
        type: "value",
        gridIndex: 0,
        position: "bottom",
        min: X_MIN,
        max: X_MAX,
        interval: 25,
        axisLine,
        axisTick: { show: true, inside: true, length: 6, lineStyle: { color: AXIS_GRAY } },
        axisLabel: { show: false },
        splitLine: { show: false },
      },
      {
        type: "value",
        gridIndex: 1,
        position: "bottom",
        min: X_MIN,
        max: X_MAX,
        interval: 25,
        axisLine,
        axisTick: { show: true, length: 6, lineStyle: { color: AXIS_GRAY } },
        axisLabel: {
          ...tickLabel,
          margin: 10,
          showMaxLabel: false,
          formatter: (v: number) => (v % 50 === 0 ? minus(v) : ""),
        },
        splitLine: { show: false },
        name: "Distance along strike (km)",
        nameLocation: "middle",
        nameGap: 38,
        nameTextStyle: nameStyle,
      },
    ],
    yAxis: [
      {
        type: "value",
        gridIndex: 0,
        position: "left",
        min: 0,
        max: 12,
        interval: 1.5,
        axisLine,
        axisTick: { show: true, length: 7, lineStyle: { color: AXIS_GRAY } },
        axisLabel: { show: false },
        splitLine: { show: false },
      },
      {
        type: "value",
        gridIndex: 0,
        position: "right",
        min: 0,
        max: 12,
        interval: 1.5,
        axisLine,
        axisTick: { show: true, length: 6, lineStyle: { color: AXIS_GRAY } },
        axisLabel: {
          ...tickLabel,
          margin: 12,
          formatter: (v: number) => (v > 0 && v % 3 === 0 ? String(v) : ""),
        },
        splitLine: { show: false },
        name: "Slip rate(mm/yr)",
        nameLocation: "middle",
        nameRotate: 90,
        nameGap: 48,
        nameTextStyle: nameStyle,
      },
      {
        type: "value",
        gridIndex: 1,
        position: "left",
        min: -30,
        max: 0,
        interval: 5,
        axisLine,
        axisTick: { show: true, length: 7, lineStyle: { color: AXIS_GRAY } },
        axisLabel: {
          ...tickLabel,
          margin: 10,
          formatter: (v: number) => (v % 10 === 0 ? minus(v) : ""),
        },
        splitLine: { show: false },
        name: "Depth(km)",
        nameLocation: "middle",
        nameRotate: 90,
        nameGap: 56,
        nameTextStyle: nameStyle,
      },
      {
        type: "value",
        gridIndex: 1,
        position: "right",
        min: -30,
        max: 0,
        interval: 5,
        axisLine,
        axisTick: { show: true, length: 6, lineStyle: { color: AXIS_GRAY } },
        axisLabel: {
          ...tickLabel,
          margin: 10,
          formatter: (v: number) => (v % 10 === 0 ? minus(v) : ""),
        },
        splitLine: { show: false },
        name: "Locking Depth(km)",
        nameLocation: "middle",
        nameRotate: 90,
        nameGap: 61,
        nameTextStyle: nameStyle,
      },
    ],
    series,
  };
}

export default function App() {
  const ref = useRef<HTMLDivElement>(null);
  useEffect(() => {
    if (!ref.current) return;
    const chart = echarts.init(ref.current, undefined, { renderer: "svg" });
    chart.setOption(buildOption());
    return () => chart.dispose();
  }, []);
  return (
    <div
      ref={ref}
      style={{ position: "absolute", left: 0, top: 0, width: 1375, height: 583, background: "#fff" }}
    />
  );
}
